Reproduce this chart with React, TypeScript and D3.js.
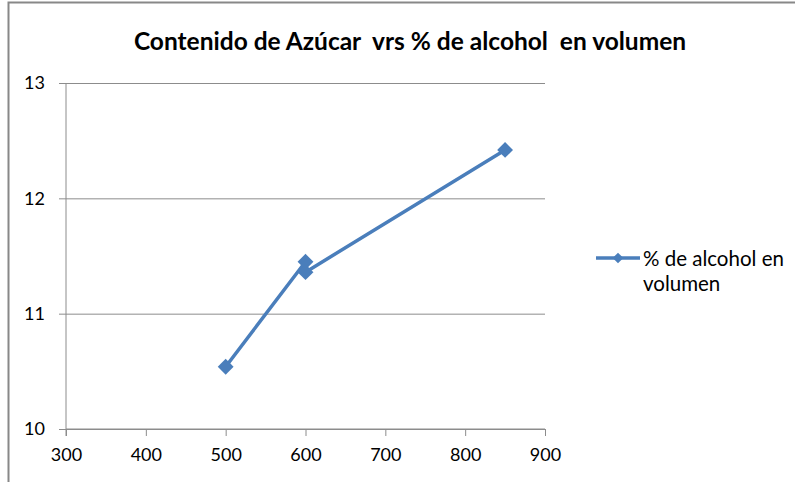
import { useEffect, useRef } from "react";
import * as d3 from "d3";

// Contenido de azúcar (x) vs % de alcohol en volumen (y)
const sugar = [500, 600, 600, 850];
const alcohol = [10.54, 11.45, 11.36, 12.42];
const xTicks = [300, 400, 500, 600, 700, 800, 900];
const yTicks = [10, 11, 12, 13];
const title = "Contenido de Azúcar  vrs % de alcohol  en volumen";
const seriesName = ["% de alcohol en", "volumen"];

const W = 795;
const H = 482;
const BLUE = "#4a7ebb";
const FONT = "Lato, 'Open Sans', sans-serif";

export default function App() {
  const ref = useRef<SVGSVGElement | null>(null);

  useEffect(() => {
    if (!ref.current) return;
    const svg = d3.select(ref.current);
    svg.selectAll("*").remove();

    const margin = { top: 83, right: 250, bottom: 53, left: 66 };

    const x = d3
      .scaleLinear()
      .domain([300, 900])
      .range([margin.left, W - margin.right]);

    const y = d3
      .scaleLinear()
      .domain([10, 13])
      .range([H - margin.bottom, margin.top]);

    // chart frame (left + top edges visible)
    svg.append("rect").attr("width", W).attr("height", H).attr("fill", "white");
    svg.append("path")
      .attr("d", `M8.5,${H} V2.5 H${W}`)
      .attr("fill", "none")
      .attr("stroke", "#888")
      .attr("stroke-width", 2);

    /* ---------------- TITLE ---------------- */
    svg.append("text")
      .attr("x", 410)
      .attr("y", 50)
      .attr("text-anchor", "middle")
      .attr("font-family", FONT)
      .attr("font-weight", "bold")
      .attr("font-size", 24.5)
      .attr("fill", "#000")
      .style("white-space", "pre")
      .text(title);

    /* ---------------- AXES ---------------- */
    const gy = svg.append("g")
      .attr("transform", `translate(${margin.left},0)`)
      .call(
        d3.axisLeft(y)
          .tickValues(yTicks)
          .tickFormat(d3.format("d"))
          .tickSize(-(W - margin.left - margin.right))
          .tickPadding(21)
      );
    gy.select(".domain").remove();
    gy.selectAll(".tick line").attr("stroke", "#8c8c8c").attr("stroke-width", 1);
    gy.selectAll(".tick")
      .append("line")
      .attr("x1", -7)
      .attr("x2", 0)
      .attr("stroke", "#8c8c8c");
    gy.selectAll("text")
      .attr("font-family", FONT)
      .attr("font-size", 18)
      .attr("fill", "#000");

    const gx = svg.append("g")
      .attr("transform", `translate(0,${H - margin.bottom})`)
      .call(
        d3.axisBottom(x)
          .tickValues(xTicks)
          .tickFormat(d3.format("d"))
          .tickSize(7)
          .tickPadding(12)
      );
    gx.select(".domain").attr("stroke", "#8c8c8c").attr("d", `M${margin.left},0H${W - margin.right}`);
    gx.selectAll(".tick line").attr("stroke", "#8c8c8c");
    gx.selectAll("text")
      .attr("font-family", FONT)
      .attr("font-size", 18)
      .attr("fill", "#000");

    // vertical axis line
    svg.append("line")
      .attr("x1", margin.left)
      .attr("x2", margin.left)
      .attr("y1", margin.top)
      .attr("y2", H - margin.bottom + 7)
      .attr("stroke", "#8c8c8c");

    /* ---------------- LINE ---------------- */
    const pts = sugar.map((s, i) => [s, alcohol[i]] as [number, number]);
    const line = d3.line<[number, number]>()
      .x(d => x(d[0]))
      .y(d => y(d[1]));

    svg.append("path")
      .datum(pts)
      .attr("fill", "none")
      .attr("stroke", BLUE)
      .attr("stroke-width", 3.5)
      .attr("stroke-linejoin", "round")
      .attr("d", line);

    const diamond = d3.symbol().type(d3.symbolDiamond2).size(160);
    svg.selectAll(".dot")
      .data(pts)
      .enter()
      .append("path")
      .attr("d", diamond)
      .attr("transform", d => `translate(${x(d[0])},${y(d[1])})`)
      .attr("fill", BLUE);

    /* ---------------- LEGEND ---------------- */
    const lg = svg.append("g").attr("transform", "translate(596,258)");
    lg.append("line")
      .attr("x1", 0)
      .attr("x2", 44)
      .attr("stroke", BLUE)
      .attr("stroke-width", 3.5);
    lg.append("path")
      .attr("d", d3.symbol().type(d3.symbolDiamond2).size(72))
      .attr("transform", "translate(22,0)")
      .attr("fill", BLUE);
    seriesName.forEach((t, i) => {
      lg.append("text")
        .attr("x", 47)
        .attr("y", 8 + i * 25)
        .attr("font-family", FONT)
        .attr("font-size", 20.5)
        .attr("fill", "#000")
        .text(t);
    });
  }, []);

  return (
    <svg
      ref={ref}
      width={W}
      height={H}
      style={{ position: "absolute", left: 0, top: 0, display: "block" }}
    />
  );
}
